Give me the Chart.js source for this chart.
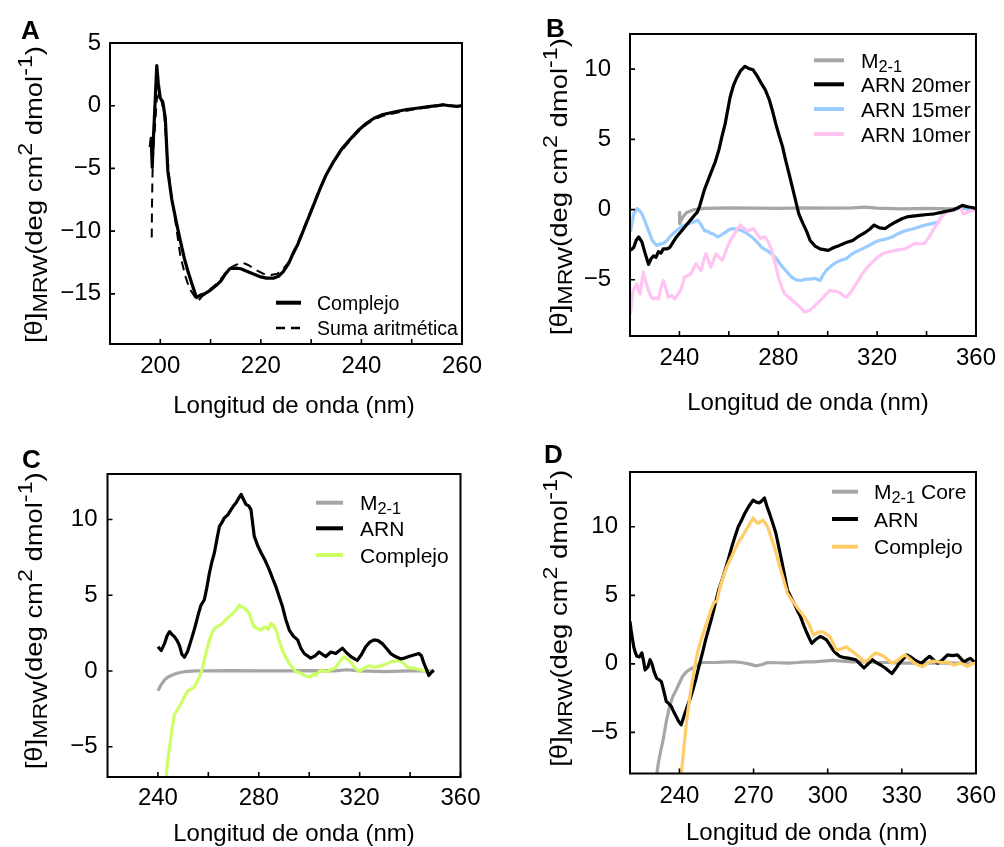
<!DOCTYPE html>
<html>
<head>
<meta charset="utf-8">
<script src="https://cdn.jsdelivr.net/npm/chart.js@4.4.1/dist/chart.umd.min.js"></script>
<style>
  body { margin: 0; background: #fff; }
  #wrap { position: relative; width: 1004px; height: 847px; }
  #wrap canvas { position: absolute; left: 0; top: 0; }
</style>
</head>
<body>
<div id="wrap">
  <canvas id="chartA" width="1004" height="847"></canvas>
  <canvas id="chartB" width="1004" height="847"></canvas>
  <canvas id="chartC" width="1004" height="847"></canvas>
  <canvas id="chartD" width="1004" height="847"></canvas>
</div>
<script>
// ---- axis ticks ----
const xTicksA = [200, 210, 220, 230, 240, 250, 260];
const xLabelsA = [200, 220, 240, 260];
const yTicksA = [-15, -10, -5, 0, 5];
const xTicksBC = [240, 260, 280, 300, 320, 340, 360];
const xLabelsBC = [240, 280, 320, 360];
const yTicksB = [-5, 0, 5, 10];
const yTicksC = [-5, 0, 5, 10];
const xTicksD = [240, 270, 300, 330, 360];
const yTicksD = [-5, 0, 5, 10];

// ---- legend labels ----
const labelsA = ['Complejo', 'Suma aritmética'];
const labelsB = ['M_{2-1}', 'ARN 20mer', 'ARN 15mer', 'ARN 10mer'];
const labelsC = ['M_{2-1}', 'ARN', 'Complejo'];
const labelsD = ['M_{2-1} Core', 'ARN', 'Complejo'];

// ---- spectra: [wavelength nm, [θ] value] ----
const specA_complejo = [[198.0,-3.3],[198.2,-2.6],[198.4,-4.9],[198.6,-2.8],[198.8,-1.2],[199.0,0.5],[199.3,3.2],[199.6,1.8],[200.0,0.6],[200.5,0.3],[201.0,-1.0],[201.5,-5.2],[202.3,-7.5],[203.2,-9.3],[204.0,-10.8],[204.8,-12.2],[205.5,-13.2],[206.2,-14.1],[207.2,-15.3],[208.0,-15.1],[208.8,-15.0],[210.0,-14.7],[211.2,-14.3],[212.0,-14.0],[212.8,-13.5],[213.8,-13.0],[215.0,-12.95],[216.0,-13.0],[217.2,-13.2],[218.4,-13.4],[220.0,-13.65],[221.1,-13.75],[222.5,-13.75],[223.5,-13.6],[224.5,-13.2],[225.5,-12.6],[226.4,-11.8],[227.4,-11.0],[228.3,-10.1],[229.1,-9.3],[230.4,-8.0],[231.7,-6.7],[233.0,-5.5],[234.4,-4.5],[236.0,-3.5],[237.7,-2.7],[239.3,-2.0],[241.0,-1.4],[242.5,-1.0],[244.3,-0.7],[246.5,-0.5],[249.0,-0.3],[251.0,-0.2],[253.0,-0.1],[255.0,0.0],[256.3,0.08],[257.5,0.0],[259.0,-0.05],[260.0,0.0]];
const specA_suma = [[198.3,-10.5],[198.35,-8.0],[198.45,-5.5],[198.6,-3.5],[198.9,-2.0],[199.3,0.5],[199.8,1.0],[200.3,0.3],[200.8,-0.8],[201.3,-3.6],[202.0,-6.6],[203.0,-9.2],[204.0,-12.0],[205.0,-13.6],[205.8,-14.6],[206.5,-15.0],[207.5,-15.6],[208.3,-15.2],[209.0,-15.0],[210.0,-14.6],[211.2,-14.2],[212.5,-13.6],[213.6,-13.0],[215.0,-12.7],[216.3,-12.5],[217.5,-12.7],[219.0,-13.1],[220.5,-13.4],[222.0,-13.5],[223.3,-13.4],[224.5,-13.0],[225.5,-12.5],[226.4,-11.7],[227.4,-10.9],[228.3,-10.0],[229.1,-9.2],[230.4,-7.9],[231.7,-6.6],[233.0,-5.5],[234.4,-4.5],[236.0,-3.6],[237.7,-2.8],[239.3,-2.1],[241.0,-1.5],[242.5,-1.1],[244.3,-0.8],[246.5,-0.6],[249.0,-0.4],[251.0,-0.25],[253.0,-0.15],[255.0,-0.05],[256.3,0.05],[257.5,0.0],[259.0,-0.05],[260.0,0.0]];

const specB_m21 = [[240.0,-0.2],[240.1,-1.0],[241.5,-0.5],[243.0,-0.2],[246.0,0.0],[250.0,0.08],[255,0.1],[260,0.12],[270,0.1],[280,0.08],[290,0.12],[300,0.1],[310,0.12],[315,0.18],[320,0.1],[330,0.05],[340,0.08],[350,0.05],[355,0.1],[360,0.05]];
const specB_arn20 = [[220.2,-2.9],[221.5,-2.7],[222.5,-2.2],[223.5,-1.95],[224.8,-2.3],[226.1,-3.1],[227.5,-3.9],[228.5,-3.5],[229.5,-3.3],[230.5,-3.4],[231.5,-3.0],[232.5,-3.1],[233.5,-2.8],[235.0,-2.8],[236.1,-2.7],[237.5,-2.3],[238.8,-1.95],[240.5,-1.6],[242.1,-1.25],[244.0,-0.85],[246.1,-0.4],[247.2,-0.2],[248.1,0.2],[250.1,1.4],[252.7,2.6],[254.5,3.4],[255.9,4.2],[257.2,5.2],[258.5,6.1],[260.5,8.0],[261.8,8.8],[263.1,9.35],[264.8,9.9],[266.5,10.2],[268.0,10.05],[269.8,9.95],[271.5,9.5],[273.1,9.0],[274.8,8.5],[276.4,7.8],[277.7,7.0],[279.0,6.1],[280.3,5.3],[281.7,4.5],[283.0,3.5],[284.3,2.6],[286.3,1.15],[288.3,-0.3],[290.0,-1.0],[291.6,-1.6],[292.9,-2.2],[294.9,-2.6],[296.9,-2.8],[298.5,-2.85],[300.2,-2.9],[302.5,-2.7],[304.8,-2.55],[307.5,-2.35],[310.1,-2.2],[312.5,-1.9],[315.4,-1.6],[317.0,-1.4],[318.7,-1.1],[321.0,-1.3],[323.3,-1.35],[325.3,-1.1],[327.3,-0.9],[330.0,-0.65],[332.6,-0.5],[335.3,-0.45],[337.9,-0.4],[340.5,-0.35],[343.2,-0.3],[346.0,-0.2],[348.5,-0.1],[351.0,0.0],[353.0,0.15],[354.5,0.3],[356.5,0.2],[358.5,0.15],[359.8,0.07]];
const specB_arn15 = [[220.2,-1.6],[221.5,-0.3],[222.8,0.07],[224.0,-0.1],[224.8,-0.3],[226.2,-0.9],[227.5,-1.5],[229.0,-2.2],[230.8,-2.55],[232.2,-2.45],[233.5,-2.4],[235.0,-2.2],[236.1,-1.95],[237.5,-1.7],[238.8,-1.5],[240.5,-1.25],[242.1,-1.1],[243.8,-1.0],[245.4,-0.9],[247.4,-0.75],[248.8,-1.1],[250.1,-1.5],[251.5,-1.55],[252.7,-1.7],[254.0,-1.75],[255.4,-1.95],[257.0,-1.8],[258.7,-1.6],[260.0,-1.45],[261.4,-1.35],[263.3,-1.4],[265.3,-1.5],[267.3,-1.7],[269.3,-1.95],[271.3,-2.3],[273.3,-2.7],[275.3,-2.9],[277.3,-3.15],[279.3,-3.5],[281.3,-4.0],[283.3,-4.4],[285.3,-4.8],[287.3,-5.0],[289.3,-5.05],[291.0,-4.95],[292.9,-4.95],[295.0,-4.9],[296.9,-5.05],[298.3,-4.6],[299.6,-4.3],[301.5,-4.0],[303.5,-3.75],[305.5,-3.6],[307.5,-3.5],[309.5,-3.2],[311.5,-3.0],[314.0,-2.8],[316.8,-2.55],[318.8,-2.35],[320.8,-2.2],[323.5,-2.1],[326.1,-1.95],[328.7,-1.7],[331.4,-1.5],[334.0,-1.4],[336.8,-1.25],[339.5,-1.1],[342.1,-1.0],[344.7,-0.9],[346.0,-0.5],[347.4,-0.15],[349.5,-0.1],[351.3,-0.05],[352.7,0.1],[354.0,0.2],[355.5,0.1],[357.3,-0.05],[360.0,0.0]];
const specB_arn10 = [[220.2,-7.4],[221.2,-5.8],[222.0,-5.5],[222.8,-5.3],[223.5,-5.8],[224.1,-6.0],[225.4,-4.45],[226.5,-5.2],[227.5,-5.75],[228.5,-6.2],[229.5,-6.35],[230.5,-6.3],[231.5,-6.35],[232.5,-5.6],[233.5,-5.05],[234.5,-5.6],[235.5,-6.25],[236.8,-6.1],[238.2,-6.35],[239.5,-6.0],[240.7,-5.65],[242.1,-4.8],[243.5,-4.7],[244.7,-4.55],[245.7,-4.2],[246.7,-3.85],[247.7,-4.1],[248.7,-4.35],[249.7,-3.7],[250.7,-3.15],[251.7,-3.6],[252.7,-4.1],[253.8,-3.6],[254.8,-3.15],[256.0,-3.4],[257.4,-3.6],[258.7,-3.0],[260.0,-2.4],[261.3,-2.0],[262.7,-1.6],[263.7,-1.3],[264.7,-1.1],[266.0,-1.3],[267.3,-1.5],[268.7,-1.45],[270.0,-1.35],[271.3,-1.7],[272.7,-2.05],[274.6,-1.95],[276.0,-2.3],[277.3,-2.9],[278.7,-3.8],[280.0,-4.8],[281.3,-5.5],[282.6,-6.0],[284.6,-6.3],[286.6,-6.6],[288.6,-6.9],[290.6,-7.3],[292.4,-7.2],[294.2,-6.95],[296.2,-6.6],[298.2,-6.25],[300.8,-5.75],[302.8,-5.8],[304.8,-5.9],[306.2,-6.1],[307.5,-6.25],[309.2,-5.9],[310.8,-5.5],[312.5,-5.0],[314.1,-4.55],[316.1,-4.1],[318.1,-3.75],[320.1,-3.4],[322.1,-3.15],[324.7,-3.0],[327.3,-2.9],[329.4,-2.85],[331.4,-2.8],[333.3,-2.6],[335.2,-2.4],[337.2,-2.45],[339.2,-2.4],[340.5,-2.1],[341.9,-1.7],[343.2,-1.3],[344.5,-1.0],[345.5,-0.7],[346.5,-0.4],[348.2,-0.2],[349.8,-0.05],[351.8,0.07],[353.0,0.2],[354.0,0.0],[355.1,-0.3],[356.5,-0.2],[358.0,-0.1],[360.0,-0.05]];

const specC_m21 = [[240.0,-1.3],[241.3,-0.9],[242.6,-0.6],[244.0,-0.4],[245.3,-0.3],[247.5,-0.15],[250.5,-0.05],[255,0.0],[260,0.0],[270,0.02],[280,0.0],[290,0.0],[300,0.02],[310,0.0],[315,0.08],[320,0.0],[330,-0.05],[340,0.0],[345,0.0],[349.4,0.0]];
const specC_arn = [[240.0,1.6],[241.3,1.35],[242.6,1.8],[243.6,2.3],[244.6,2.6],[245.6,2.4],[246.6,2.25],[247.6,2.0],[248.5,1.7],[249.5,1.1],[250.5,0.9],[251.8,1.3],[253.2,2.05],[254.2,2.6],[255.1,3.15],[256.1,3.8],[257.1,4.35],[258.4,4.7],[259.4,5.5],[260.4,6.45],[261.4,7.2],[262.4,7.8],[263.4,8.7],[264.4,9.55],[265.4,9.8],[266.3,10.1],[267.7,10.3],[269.0,10.65],[270.0,10.9],[271.0,11.1],[272.0,11.4],[273.0,11.65],[274.0,11.3],[274.9,11.0],[276.0,10.9],[276.9,10.65],[277.6,9.7],[278.2,8.9],[279.5,8.3],[280.9,7.8],[282.5,7.3],[284.1,6.7],[285.5,6.1],[286.8,5.55],[288.1,4.9],[289.4,4.25],[290.7,3.4],[292.1,2.7],[293.7,2.3],[295.4,2.05],[296.7,1.5],[298.0,1.15],[300.6,0.85],[302.3,1.0],[303.9,1.25],[305.2,1.1],[306.6,0.95],[308.6,1.25],[310.5,1.15],[312.0,1.35],[313.2,1.5],[314.8,1.2],[316.5,0.95],[318.0,0.8],[319.1,0.7],[320.8,1.1],[322.4,1.6],[324.0,1.9],[325.7,2.05],[327.3,2.0],[329.0,1.8],[330.6,1.5],[332.3,1.15],[334.2,0.95],[336.2,0.8],[337.8,0.85],[339.5,0.95],[341.5,1.05],[343.5,1.15],[344.5,1.0],[345.5,0.5],[346.5,0.1],[347.4,-0.3],[348.4,-0.1],[349.4,0.05]];
const specC_complejo = [[243.0,-7.6],[243.8,-6.0],[244.6,-5.05],[245.6,-3.8],[246.6,-2.85],[248.0,-2.5],[249.2,-2.15],[250.5,-1.7],[251.9,-1.3],[253.2,-1.2],[254.5,-1.05],[255.5,-0.7],[256.5,-0.4],[257.5,0.1],[258.4,0.7],[259.4,1.4],[260.4,2.05],[261.7,2.6],[263.1,2.9],[264.4,3.0],[265.7,3.15],[267.0,3.4],[268.3,3.6],[269.3,3.75],[270.3,3.9],[271.3,4.1],[272.3,4.35],[273.3,4.2],[274.3,4.15],[275.2,4.0],[276.2,3.8],[277.2,3.3],[278.2,2.9],[279.5,2.8],[280.9,2.7],[281.8,2.85],[282.8,2.9],[283.8,2.75],[284.8,3.15],[285.8,3.0],[286.8,2.7],[288.1,2.0],[289.4,1.35],[290.7,0.9],[292.1,0.5],[293.4,0.2],[294.7,-0.05],[296.0,-0.1],[298.0,-0.3],[299.3,-0.35],[300.6,-0.4],[301.6,-0.2],[302.6,-0.3],[303.6,-0.1],[304.6,0.05],[305.9,0.0],[307.2,-0.05],[308.6,0.1],[309.9,0.15],[311.2,0.4],[312.5,0.7],[313.8,0.95],[315.2,0.75],[316.5,0.6],[318.1,0.2],[319.7,-0.05],[321.0,0.1],[322.4,0.25],[324.0,0.35],[325.7,0.25],[327.6,0.3],[329.6,0.4],[331.0,0.5],[332.3,0.6],[334.2,0.65],[336.2,0.7],[337.5,0.5],[338.9,0.25],[340.5,0.2],[342.2,0.15],[343.5,0.1],[344.8,0.05],[346.1,0.0],[347.4,-0.15],[348.4,-0.05],[349.4,0.05]];

const specD_core = [[230.5,-8.5],[231.5,-7.2],[232.5,-6.3],[233.4,-5.55],[234.7,-4.2],[236.0,-3.1],[237.3,-2.4],[238.7,-1.9],[240.0,-1.4],[241.3,-0.9],[243.0,-0.55],[245.3,-0.3],[247.0,-0.1],[249.2,0.1],[252,0.1],[254.6,0.1],[257,0.12],[259.9,0.15],[262.5,0.15],[265.1,0.1],[268,0.0],[271.1,-0.15],[273.5,-0.05],[275.7,0.1],[280,0.08],[283.7,0.05],[288,0.1],[291,0.15],[294.3,0.15],[298,0.2],[302,0.25],[306,0.2],[310,0.15],[315,0.15],[320,0.1],[325,0.1],[330,0.05],[335,0.05],[340,0.05],[345,0.05],[350,0.05],[355,0.05],[360,0.05]];
const specD_arn = [[220.0,3.1],[220.5,2.4],[221.5,1.25],[222.2,0.8],[222.8,0.55],[223.8,0.5],[224.8,0.8],[225.5,0.2],[226.1,-0.45],[227.3,-0.2],[228.1,0.3],[228.8,0.05],[229.8,-0.6],[230.8,-1.05],[231.7,-1.15],[232.7,-1.3],[233.7,-2.0],[234.7,-2.75],[235.7,-2.9],[236.7,-3.1],[237.7,-3.5],[238.7,-3.85],[239.7,-4.2],[240.7,-4.45],[241.7,-3.9],[242.7,-3.35],[243.6,-2.9],[244.6,-2.4],[245.6,-1.8],[246.6,-1.15],[247.6,-0.4],[248.6,0.3],[249.6,1.0],[250.6,1.75],[251.9,2.6],[253.2,3.45],[254.5,4.4],[255.9,5.4],[257.2,6.1],[258.5,6.85],[259.9,7.7],[261.2,8.55],[262.5,9.3],[263.8,10.0],[265.2,10.5],[266.5,11.0],[268.1,11.5],[269.8,11.95],[271.1,11.8],[272.4,11.75],[273.4,11.9],[274.4,12.1],[275.4,11.5],[276.4,11.0],[277.7,10.3],[279.0,9.55],[280.0,8.7],[281.0,7.85],[282.4,6.6],[283.7,5.4],[285.0,4.9],[286.3,4.45],[287.7,3.9],[289.0,3.45],[290.3,2.8],[291.6,2.25],[293.0,1.7],[293.6,1.5],[295.3,1.8],[296.9,2.0],[298.2,1.9],[299.5,1.75],[300.8,1.4],[302.2,1.0],[303.5,0.75],[304.8,0.55],[306.8,0.45],[308.8,0.4],[310.1,0.35],[311.4,0.3],[313.0,0.0],[314.7,-0.3],[316.4,0.0],[318.1,0.3],[320.0,0.05],[321.6,-0.1],[323.3,-0.3],[324.6,-0.5],[326.0,-0.7],[327.3,-0.4],[328.6,-0.05],[330.3,0.3],[332.0,0.65],[333.6,0.5],[335.2,0.3],[336.5,0.15],[337.9,0.05],[339.5,0.3],[341.2,0.55],[342.8,0.3],[344.5,0.05],[346.5,0.3],[348.5,0.65],[350.5,0.6],[352.5,0.65],[353.8,0.4],[355.1,0.15],[356.5,0.3],[357.8,0.4],[359.0,0.2],[360.0,0.05]];
const specD_complejo = [[240.5,-8.6],[241.3,-7.0],[242.0,-5.8],[242.6,-4.7],[243.3,-3.6],[244.3,-2.3],[245.3,-1.15],[246.3,-0.1],[247.3,0.8],[248.2,1.4],[249.2,2.0],[250.5,2.7],[251.9,3.45],[252.9,4.0],[253.9,4.45],[255.2,4.6],[256.5,5.65],[257.8,6.4],[259.2,7.1],[260.5,7.6],[261.8,8.1],[263.1,8.6],[264.5,9.05],[265.8,9.4],[267.1,9.8],[268.4,10.2],[269.8,10.65],[270.8,10.4],[271.7,10.25],[272.7,10.35],[273.7,10.5],[274.7,10.3],[275.7,10.0],[277.0,9.3],[278.4,8.55],[279.7,7.7],[281.0,6.85],[282.4,6.0],[283.7,5.15],[285.0,4.8],[286.3,4.45],[287.7,4.1],[289.0,3.8],[290.6,3.4],[292.3,2.95],[293.3,2.5],[294.3,2.1],[295.9,2.3],[297.6,2.35],[299.2,2.2],[300.8,2.0],[302.2,1.5],[303.5,1.0],[305.5,1.1],[307.5,1.25],[309.2,1.0],[310.8,0.8],[312.8,0.5],[314.7,0.15],[316.4,0.3],[318.0,0.6],[319.4,0.8],[321.0,0.7],[322.7,0.55],[324.4,0.3],[326.0,0.05],[327.3,0.15],[328.6,0.3],[330.0,0.5],[331.3,0.65],[333.3,0.35],[335.2,0.05],[336.8,-0.1],[338.5,-0.2],[340.0,0.0],[341.2,0.15],[343.0,0.2],[344.5,0.15],[346.5,0.1],[348.5,0.15],[350.0,0.0],[351.1,-0.1],[352.5,0.0],[353.8,0.05],[355.2,-0.05],[356.5,-0.2],[358.2,0.0],[360.0,0.05]];

const FONT = '"Liberation Sans", Arial, Helvetica, sans-serif';
const Y_TITLE = '[θ]_{MRW}(deg cm^{2} dmol^{-1})';
const X_TITLE = 'Longitud de onda (nm)';
const Y_W = 60, X_H = 40, TICK = 5;
const Y_TITLE_LEN = 297;

const GRAY = '#a6a6a6', BLACK = '#000000', BLUE = '#99ccff', PINK = '#ffc4f2', GREEN = '#ccff66', ORANGE = '#ffcc66';

function fmt(v) {
  return v < 0 ? '\u2212' + Math.abs(v) : String(v);
}

// split "a_{b}c^{d}" into plain / sub / sup runs
function parseRich(s) {
  const parts = [];
  const re = /([_^])\{([^}]*)\}/g;
  let last = 0, m;
  while ((m = re.exec(s))) {
    if (m.index > last) parts.push({ t: s.slice(last, m.index), k: 0 });
    parts.push({ t: m[2], k: m[1] === '_' ? 1 : -1 });
    last = re.lastIndex;
  }
  if (last < s.length) parts.push({ t: s.slice(last), k: 0 });
  return parts;
}

function measureRich(ctx, str, size, subScale) {
  let w = 0;
  parseRich(str).forEach(p => {
    ctx.font = (p.k ? size * subScale : size) + 'px ' + FONT;
    w += ctx.measureText(p.t).width;
  });
  return w;
}

function drawRich(ctx, str, x, y, size, align, subScale) {
  subScale = subScale || 0.78;
  const parts = parseRich(str);
  const fontFor = k => (k ? size * subScale : size) + 'px ' + FONT;
  let w = 0;
  parts.forEach(p => { ctx.font = fontFor(p.k); p.w = ctx.measureText(p.t).width; w += p.w; });
  let cx = align === 'center' ? x - w / 2 : x;
  ctx.textAlign = 'left';
  ctx.textBaseline = 'alphabetic';
  parts.forEach(p => {
    ctx.font = fontFor(p.k);
    const dy = p.k === 1 ? size * 0.2 : (p.k === -1 ? -size * 0.4 : 0);
    ctx.fillText(p.t, cx, y + dy);
    cx += p.w;
  });
  return w;
}

const panels = [
  {
    id: 'chartA', letter: 'A', letterPos: [21, 39],
    area: { left: 110, top: 43, right: 462, bottom: 344 },
    x: { min: 190, max: 260, ticks: xTicksA, labels: xLabelsA },
    y: { min: -19, max: 5, ticks: yTicksA },
    yPad: 9, xPad: 8,
    yTitle: { x: 42, y: 194.5 }, xTitle: { x: 294, y: 413 },
    legend: { x1: 276, x2: 301, tx: 317, rows: [302.7, 328], size: 19.5 },
    series: [
      { data: specA_complejo, label: labelsA[0], color: BLACK, width: 3.2, order: 1 },
      { data: specA_suma, label: labelsA[1], color: BLACK, width: 2, dash: [9, 6], order: 0 }
    ]
  },
  {
    id: 'chartB', letter: 'B', letterPos: [546, 36.5],
    area: { left: 630, top: 34, right: 982.5, bottom: 336 },
    x: { min: 220, max: 360, ticks: xTicksBC, labels: xLabelsBC },
    y: { min: -9, max: 12.5, ticks: yTicksB },
    yPad: 19, xPad: 8,
    yTitle: { x: 567, y: 186.7 }, xTitle: { x: 808, y: 410 },
    legend: { x1: 814, x2: 844, tx: 861, rows: [60.3, 84.3, 109, 134], size: 21 },
    series: [
      { data: specB_m21, label: labelsB[0], color: GRAY, width: 3.2, order: 3 },
      { data: specB_arn20, label: labelsB[1], color: BLACK, width: 3.2, order: 0 },
      { data: specB_arn15, label: labelsB[2], color: BLUE, width: 3.2, order: 2 },
      { data: specB_arn10, label: labelsB[3], color: PINK, width: 3.2, order: 1 }
    ]
  },
  {
    id: 'chartC', letter: 'C', letterPos: [22, 468],
    area: { left: 107.5, top: 474, right: 460.5, bottom: 777 },
    x: { min: 220, max: 360, ticks: xTicksBC, labels: xLabelsBC },
    y: { min: -7, max: 13, ticks: yTicksC },
    yPad: 10, xPad: 7,
    yTitle: { x: 42, y: 620.8 }, xTitle: { x: 294, y: 841 },
    legend: { x1: 316, x2: 343, tx: 360, rows: [502.7, 528.3, 555], size: 21 },
    series: [
      { data: specC_m21, label: labelsC[0], color: GRAY, width: 3.2, order: 2 },
      { data: specC_arn, label: labelsC[1], color: BLACK, width: 3.2, order: 0 },
      { data: specC_complejo, label: labelsC[2], color: GREEN, width: 3.2, order: 1 }
    ]
  },
  {
    id: 'chartD', letter: 'D', letterPos: [544, 463],
    area: { left: 630, top: 472, right: 982.5, bottom: 773.5 },
    x: { min: 220, max: 360, ticks: xTicksD, labels: xTicksD },
    y: { min: -8, max: 14, ticks: yTicksD },
    yPad: 12, xPad: 8,
    yTitle: { x: 566.7, y: 618.3 }, xTitle: { x: 806.7, y: 840 },
    legend: { x1: 832, x2: 858, tx: 874, rows: [491.7, 519, 546.7], size: 21 },
    series: [
      { data: specD_core, label: labelsD[0], color: GRAY, width: 3.2, order: 2 },
      { data: specD_arn, label: labelsD[1], color: BLACK, width: 3.2, order: 1 },
      { data: specD_complejo, label: labelsD[2], color: ORANGE, width: 3.2, order: 0 }
    ]
  }
];

function panelPlugin(p) {
  return {
    id: 'panel_' + p.id,
    afterDraw(chart) {
      const { ctx, chartArea: a, scales: { x, y } } = chart;
      ctx.save();
      // frame
      ctx.strokeStyle = '#000';
      ctx.lineWidth = 2;
      ctx.strokeRect(a.left, a.top, a.right - a.left, a.bottom - a.top);
      // inward ticks
      ctx.lineWidth = 1.6;
      ctx.beginPath();
      x.ticks.forEach(t => {
        const px = x.getPixelForValue(t.value);
        ctx.moveTo(px, a.bottom);
        ctx.lineTo(px, a.bottom - TICK);
      });
      y.ticks.forEach(t => {
        const py = y.getPixelForValue(t.value);
        ctx.moveTo(a.left, py);
        ctx.lineTo(a.left + TICK, py);
      });
      ctx.stroke();

      ctx.fillStyle = '#000';
      // panel letter
      ctx.font = 'bold 26px ' + FONT;
      ctx.textAlign = 'left';
      ctx.textBaseline = 'alphabetic';
      ctx.fillText(p.letter, p.letterPos[0], p.letterPos[1]);

      // x title
      drawRich(ctx, X_TITLE, p.xTitle.x, p.xTitle.y, 24, 'center');

      // y title, rotated and fitted to the reference length
      ctx.save();
      ctx.translate(p.yTitle.x, p.yTitle.y);
      ctx.rotate(-Math.PI / 2);
      const natural = measureRich(ctx, Y_TITLE, 24.5, 0.85);
      ctx.scale(Y_TITLE_LEN / natural, 1);
      drawRich(ctx, Y_TITLE, 0, 0, 24.5, 'center', 0.85);
      ctx.restore();

      // legend
      const lg = p.legend;
      p.series.forEach((s, i) => {
        const ry = lg.rows[i];
        ctx.save();
        ctx.strokeStyle = s.color;
        ctx.lineWidth = s.dash ? 2.5 : 4;
        ctx.setLineDash(s.dash || []);
        ctx.beginPath();
        ctx.moveTo(lg.x1, ry);
        ctx.lineTo(lg.x2, ry);
        ctx.stroke();
        ctx.restore();
        ctx.fillStyle = '#000';
        drawRich(ctx, s.label, lg.tx, ry + lg.size * 0.36, lg.size, 'left');
      });
      ctx.restore();
    }
  };
}

panels.forEach(p => {
  const datasets = p.series.map(s => ({
    label: s.label,
    data: s.data.map(d => ({ x: d[0], y: d[1] })),
    borderColor: s.color,
    borderWidth: s.width,
    borderDash: s.dash || [],
    borderJoinStyle: 'round',
    pointRadius: 0,
    tension: 0,
    fill: false,
    order: s.order
  }));

  new Chart(document.getElementById(p.id), {
    type: 'line',
    data: { datasets },
    options: {
      responsive: false,
      animation: false,
      events: [],
      layout: {
        padding: {
          left: p.area.left - Y_W,
          top: p.area.top,
          right: 1004 - p.area.right,
          bottom: 847 - p.area.bottom - X_H
        }
      },
      plugins: { legend: { display: false }, tooltip: { enabled: false } },
      scales: {
        x: {
          type: 'linear',
          min: p.x.min,
          max: p.x.max,
          grid: { display: false, drawTicks: false },
          border: { display: false },
          afterBuildTicks: s => { s.ticks = p.x.ticks.map(v => ({ value: v })); },
          afterFit: s => { s.height = X_H; },
          ticks: {
            autoSkip: false,
            maxRotation: 0,
            padding: p.xPad,
            color: '#000',
            font: { family: FONT, size: 24 },
            callback: v => (p.x.labels.includes(v) ? fmt(v) : '')
          }
        },
        y: {
          type: 'linear',
          min: p.y.min,
          max: p.y.max,
          grid: { display: false, drawTicks: false },
          border: { display: false },
          afterBuildTicks: s => { s.ticks = p.y.ticks.map(v => ({ value: v })); },
          afterFit: s => { s.width = Y_W; },
          ticks: {
            autoSkip: false,
            padding: p.yPad,
            color: '#000',
            font: { family: FONT, size: 24 },
            callback: v => fmt(v)
          }
        }
      }
    },
    plugins: [panelPlugin(p)]
  });
});
</script>
</body>
</html>
